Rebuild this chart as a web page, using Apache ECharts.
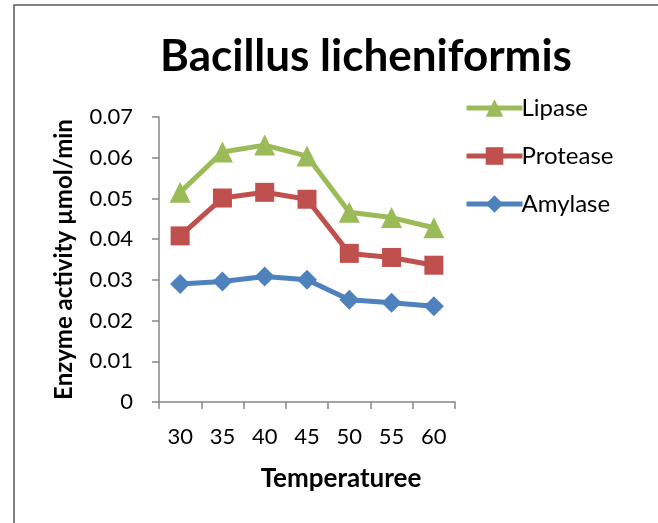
<!DOCTYPE html>
<html>
<head>
<meta charset="utf-8">
<script src="https://cdn.jsdelivr.net/npm/echarts@6/dist/echarts.min.js"></script>
<style>
  html, body { margin: 0; padding: 0; background: #fff; }
  #chart { width: 658px; height: 523px; }
</style>
</head>
<body>
<div id="chart"></div>
<script>
// temperatures (x categories)
const temps = ['30', '35', '40', '45', '50', '55', '60']
// enzyme activity µmol/min
const lipase = [0.0515, 0.0614, 0.0631, 0.0604, 0.0466, 0.0453, 0.0428]
const protease = [0.0408, 0.0501, 0.0515, 0.0498, 0.0365, 0.0355, 0.0336]
const amylase = [0.0290, 0.0296, 0.0308, 0.0300, 0.0251, 0.0244, 0.0235]
const yTicks = [0, 0.01, 0.02, 0.03, 0.04, 0.05, 0.06, 0.07]

const font = 'Lato, "Open Sans", sans-serif'
const axisColor = '#868686'

const chart = echarts.init(document.getElementById('chart'))

chart.setOption({
  animation: false,
  textStyle: { fontFamily: font },
  title: {
    text: 'Bacillus licheniformis',
    left: 361,
    top: 30,
    textAlign: 'center',
    textStyle: { fontSize: 44, fontWeight: 'bold', color: '#000', fontFamily: font }
  },
  legend: {
    data: ['Lipase', 'Protease', 'Amylase'],
    orient: 'vertical',
    left: 459,
    top: 91,
    itemWidth: 56,
    itemHeight: 22,
    itemGap: 24,
    lineStyle: { width: 5 },
    textStyle: { fontSize: 24, color: '#000', fontFamily: font, padding: [0, 0, 0, -6] }
  },
  graphic: [{
    type: 'polyline',
    shape: { points: [[14, 530], [14, 5], [670, 5]] },
    style: { stroke: '#595959', lineWidth: 1.5, fill: null }
  }],
  grid: { left: 159, right: 203, top: 117, bottom: 121 },
  xAxis: {
    type: 'category',
    data: temps,
    boundaryGap: true,
    name: 'Temperaturee',
    nameLocation: 'middle',
    nameGap: 64,
    nameTextStyle: { fontSize: 26, fontWeight: 'bold', color: '#000', padding: [0, 0, 0, 68] },
    axisLine: { lineStyle: { color: axisColor, width: 1.5 } },
    axisTick: { show: true, length: 7, lineStyle: { color: axisColor, width: 1.5 } },
    axisLabel: { fontSize: 22, color: '#000', margin: 24 },
    splitLine: { show: false }
  },
  yAxis: {
    type: 'value',
    min: yTicks[0],
    max: yTicks[yTicks.length - 1],
    interval: 0.01,
    name: 'Enzyme activity µmol/min',
    nameLocation: 'middle',
    nameGap: 83,
    nameTextStyle: { fontSize: 24, fontWeight: 'bold', color: '#000' },
    axisLine: { show: true, lineStyle: { color: axisColor, width: 1.5 } },
    axisTick: { show: true, length: 7, lineStyle: { color: axisColor, width: 1.5 } },
    axisLabel: {
      fontSize: 22, color: '#000', margin: 26,
      formatter: v => String(+v.toFixed(2))
    },
    splitLine: { show: false }
  },
  series: [{
    name: 'Lipase',
    type: 'line',
    data: lipase,
    symbol: 'triangle',
    symbolSize: 21,
    lineStyle: { color: '#9BBB59', width: 5 },
    itemStyle: { color: '#9BBB59' }
  }, {
    name: 'Protease',
    type: 'line',
    data: protease,
    symbol: 'rect',
    symbolSize: 19,
    lineStyle: { color: '#C0504D', width: 5 },
    itemStyle: { color: '#C0504D' }
  }, {
    name: 'Amylase',
    type: 'line',
    data: amylase,
    symbol: 'diamond',
    symbolSize: 20,
    lineStyle: { color: '#4F81BD', width: 5 },
    itemStyle: { color: '#4F81BD' }
  }]
})
</script>
</body>
</html>
